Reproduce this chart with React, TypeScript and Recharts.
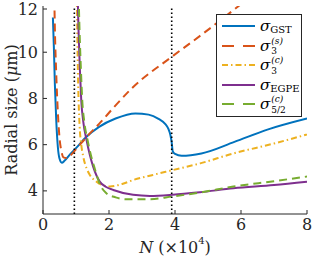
import { Label, Line, LineChart, ReferenceLine, XAxis, YAxis } from "recharts";

// sigma_GST
const gstN = [0.3, 0.33, 0.36, 0.4, 0.45, 0.5, 0.57, 0.65, 0.8, 1.0, 1.3, 1.7, 2.2, 2.8, 3.2, 3.5, 3.7, 3.8, 3.86, 3.9, 3.93, 4.0, 4.2, 4.8, 5.8, 6.8, 8.0];
const gstV = [11.5, 10.2, 8.6, 7.1, 5.9, 5.4, 5.22, 5.3, 5.55, 5.85, 6.32, 6.77, 7.13, 7.35, 7.3, 7.12, 6.9, 6.68, 6.42, 6.1, 5.72, 5.6, 5.52, 5.62, 6.12, 6.65, 7.13];
// sigma_3^(s)
const s3sN = [0.33, 0.36, 0.4, 0.45, 0.5, 0.56, 0.62, 0.7, 0.8, 1.0, 1.3, 1.7, 2.2, 2.7, 3.9, 4.8, 6.0];
const s3sV = [13.5, 11.0, 9.1, 7.4, 6.3, 5.7, 5.45, 5.42, 5.5, 5.8, 6.3, 6.9, 7.7, 8.45, 9.8, 10.75, 12.08];
// sigma_3^(c)
const s3cN = [1.02, 1.06, 1.11, 1.16, 1.22, 1.32, 1.42, 1.62, 1.8, 2.03, 2.4, 2.73, 3.3, 3.93, 4.76, 5.77, 7.0, 8.0];
const s3cV = [13, 9.0, 6.8, 6.0, 5.48, 4.98, 4.69, 4.4, 4.25, 4.19, 4.3, 4.47, 4.68, 4.9, 5.19, 5.62, 6.05, 6.44];
// sigma_EGPE
const egpeN = [1.04, 1.08, 1.12, 1.16, 1.22, 1.32, 1.42, 1.52, 1.72, 1.9, 2.13, 2.73, 3.24, 3.93, 4.76, 5.77, 7.0, 8.0];
const egpeV = [13, 10.8, 9.2, 7.9, 7.0, 6.2, 5.55, 5.05, 4.4, 4.18, 4.04, 3.83, 3.78, 3.83, 3.94, 4.11, 4.25, 4.4];
// sigma_5/2^(c)
const s52N = [1.07, 1.11, 1.15, 1.19, 1.25, 1.35, 1.45, 1.55, 1.72, 1.92, 2.2, 2.53, 3.24, 3.93, 4.76, 5.77, 7.0, 8.0];
const s52V = [13, 10.8, 9.2, 7.9, 7.0, 6.2, 5.55, 5.05, 4.3, 3.9, 3.72, 3.64, 3.64, 3.76, 3.93, 4.19, 4.42, 4.62];

const xTicks = [0, 2, 4, 6, 8];
const yTicks = [4, 6, 8, 10, 12];
const markers = [0.95, 3.9];

const zip = (n: number[], v: number[]) => n.map((x, i) => ({ n: x, v: v[i] }));

const FONT = "DejaVu Serif";
const AXIS = "#262626";

const series = [
  { key: "gst", data: zip(gstN, gstV), color: "#0072BD", dash: undefined },
  { key: "s3s", data: zip(s3sN, s3sV), color: "#D95319", dash: "8 5" },
  { key: "s3c", data: zip(s3cN, s3cV), color: "#EDB120", dash: "6 3 1.5 3" },
  { key: "egpe", data: zip(egpeN, egpeV), color: "#7E2F8E", dash: undefined },
  { key: "s52", data: zip(s52N, s52V), color: "#77AC30", dash: "8 5" },
];

const LeftTick = (p: any) => (
  <g>
    <text x={p.x} y={p.y} textAnchor="end" dominantBaseline="central" fontSize={16} fill={AXIS} fontFamily={FONT}>
      {p.payload.value}
    </text>
    <line x1={p.x + 5} x2={p.x + 9} y1={p.y} y2={p.y} stroke={AXIS} />
  </g>
);
const RightTick = (p: any) => <line x1={p.x - 4} x2={p.x} y1={p.y} y2={p.y} stroke={AXIS} />;
const BottomTick = (p: any) => (
  <g>
    <text x={p.x} y={p.y + 10} textAnchor="middle" dominantBaseline="central" fontSize={16} fill={AXIS} fontFamily={FONT}>
      {p.payload.value}
    </text>
    <line x1={p.x} x2={p.x} y1={p.y - 4} y2={p.y} stroke={AXIS} />
  </g>
);
const TopTick = (p: any) => <line x1={p.x} x2={p.x} y1={p.y} y2={p.y + 4} stroke={AXIS} />;

function Sym({ sub, sup }: { sub: string; sup?: string }) {
  return (
    <span style={{ fontFamily: FONT, color: "#000", fontSize: 15, whiteSpace: "nowrap", display: "inline-flex", alignItems: "center" }}>
      <span style={{ fontStyle: "italic" }}>σ</span>
      {sup ? (
        <span
          style={{
            display: "inline-flex",
            flexDirection: "column",
            fontSize: 9,
            lineHeight: "10.5px",
            marginLeft: 1,
            marginTop: 1,
          }}
        >
          <span style={{ fontStyle: "italic" }}>{sup}</span>
          <span>{sub}</span>
        </span>
      ) : (
        <span style={{ fontSize: 10, position: "relative", top: 4 }}>{sub}</span>
      )}
    </span>
  );
}

const legendRows = [
  { color: "#0072BD", dash: undefined, label: <Sym sub="GST" /> },
  { color: "#D95319", dash: "12 9", label: <Sym sub="3" sup="(s)" /> },
  { color: "#EDB120", dash: "6 3 1.5 3", label: <Sym sub="3" sup="(c)" /> },
  { color: "#7E2F8E", dash: undefined, label: <Sym sub="EGPE" /> },
  { color: "#77AC30", dash: "12 9", label: <Sym sub="5/2" sup="(c)" /> },
];

export default function App() {
  return (
    <div style={{ position: "absolute", left: 0, top: 0, width: 312, height: 259, background: "#fff", fontFamily: FONT }}>
      <LineChart width={312} height={259} margin={{ top: 6, right: 5, bottom: 0, left: 0 }}>
        <XAxis
          xAxisId="b"
          type="number"
          dataKey="n"
          domain={[0, 8]}
          ticks={xTicks}
          allowDataOverflow
          height={45}
          stroke={AXIS}
          tickLine={false}
          tickSize={0}
          tickMargin={0}
          tick={BottomTick}
        >
          <Label
            content={(props: any) => {
              const vb = props.viewBox;
              return (
                <text x={vb.x + vb.width / 2} y={247} textAnchor="middle" dominantBaseline="central" fontSize={16} fill={AXIS} fontFamily={FONT}>
                  <tspan fontStyle="italic">N</tspan>
                  <tspan> (×10</tspan>
                  <tspan fontSize={10} dy={-7}>4</tspan>
                  <tspan dy={7}>)</tspan>
                </text>
              );
            }}
          />
        </XAxis>
        <XAxis
          xAxisId="t"
          orientation="top"
          type="number"
          dataKey="n"
          domain={[0, 8]}
          ticks={xTicks}
          allowDataOverflow
          height={0}
          stroke={AXIS}
          tickLine={false}
          tickSize={0}
          tickMargin={0}
          tick={TopTick}
        />
        <YAxis
          yAxisId="l"
          type="number"
          domain={[3, 12]}
          ticks={yTicks}
          allowDataOverflow
          width={43}
          stroke={AXIS}
          tickLine={false}
          tickSize={0}
          tickMargin={5}
          tick={LeftTick}
        >
          <Label
            content={(props: any) => {
              const vb = props.viewBox;
              const cy = vb.y + vb.height / 2;
              return (
                <text
                  x={11}
                  y={cy}
                  transform={`rotate(-90 11 ${cy})`}
                  textAnchor="middle"
                  dominantBaseline="central"
                  fontSize={16}
                  fill={AXIS}
                  fontFamily={FONT}
                >
                  Radial size (<tspan fontStyle="italic">μ</tspan>m)
                </text>
              );
            }}
          />
        </YAxis>
        <YAxis
          yAxisId="r"
          orientation="right"
          type="number"
          domain={[3, 12]}
          ticks={yTicks}
          allowDataOverflow
          width={0}
          stroke={AXIS}
          tickLine={false}
          tickSize={0}
          tickMargin={0}
          tick={RightTick}
        />
        {series.map((s) => (
          <Line
            key={s.key}
            xAxisId="b"
            yAxisId="l"
            data={s.data}
            dataKey="v"
            type="monotone"
            stroke={s.color}
            strokeWidth={2}
            strokeDasharray={s.dash}
            dot={false}
            activeDot={false}
            isAnimationActive={false}
          />
        ))}
        {markers.map((m) => (
          <ReferenceLine
            key={m}
            xAxisId="b"
            yAxisId="l"
            x={m}
            stroke="#000"
            strokeWidth={1.6}
            strokeDasharray="1.5 2.5"
          />
        ))}
      </LineChart>
      <div
        style={{
          position: "absolute",
          left: 216,
          top: 14,
          width: 86,
          height: 103,
          boxSizing: "border-box",
          border: `1px solid ${AXIS}`,
          background: "#fff",
        }}
      >
        {legendRows.map((r, i) => (
          <div
            key={i}
            style={{
              position: "absolute",
              left: 5,
              top: 1 + i * 19.5,
              height: 20,
              display: "flex",
              alignItems: "center",
            }}
          >
            <svg width={33} height={4} style={{ display: "block" }}>
              <line x1={0} x2={33} y1={2} y2={2} stroke={r.color} strokeWidth={2} strokeDasharray={r.dash} />
            </svg>
            <div style={{ marginLeft: 5, lineHeight: "20px", display: "flex", alignItems: "center" }}>{r.label}</div>
          </div>
        ))}
      </div>
    </div>
  );
}
